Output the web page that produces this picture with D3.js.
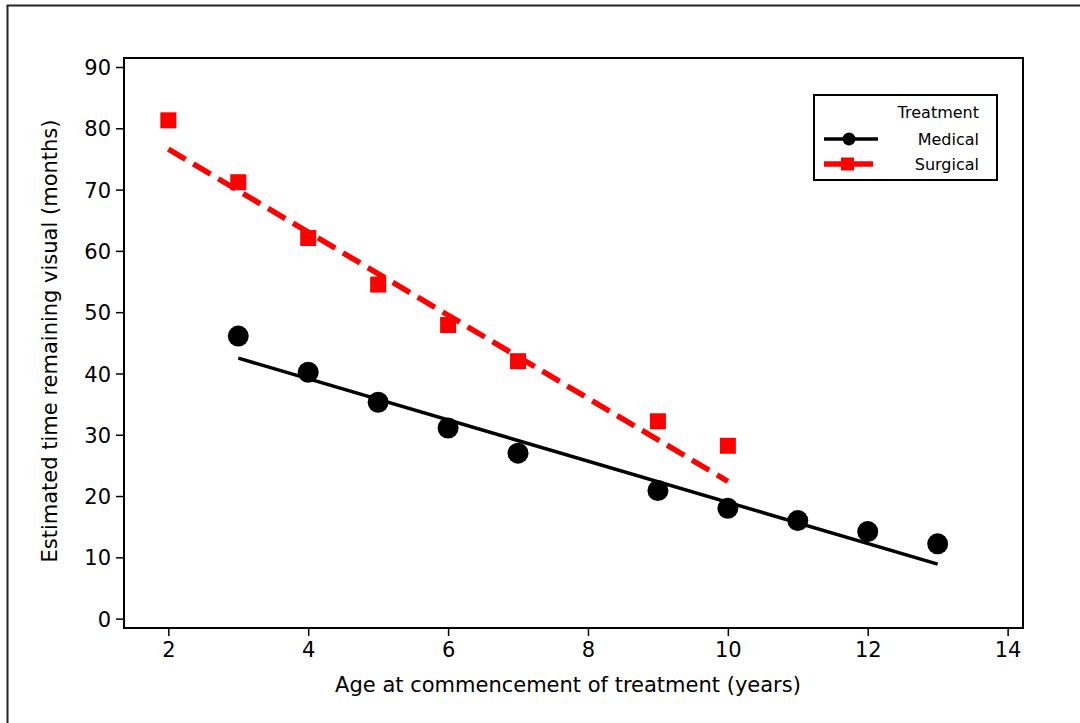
<!DOCTYPE html>
<html>
<head>
<meta charset="utf-8">
<script src="https://cdn.jsdelivr.net/npm/d3@7"></script>
<style>
  body { margin: 0; background: #fff; }
  text { font-family: "DejaVu Sans", sans-serif; fill: #000; }
</style>
</head>
<body>
<div id="chart"></div>
<script>
// data
var medicalAge = [3, 4, 5, 6, 7, 9, 10, 11, 12, 13];
var medicalTime = [46.1, 40.2, 35.3, 31.1, 27.0, 20.9, 18.0, 16.0, 14.2, 12.2];
var surgicalAge = [2, 3, 4, 5, 6, 7, 9, 10];
var surgicalTime = [81.3, 71.2, 62.1, 54.5, 47.9, 42.0, 32.2, 28.2];
// fitted line ends
var medicalFitAge = [3, 13];
var medicalFitTime = [42.5, 8.9];
var surgicalFitAge = [2, 10];
var surgicalFitTime = [76.6, 22.4];
var xTicks = [2, 4, 6, 8, 10, 12, 14];
var yTicks = [0, 10, 20, 30, 40, 50, 60, 70, 80, 90];
var legendLabels = ["Medical", "Surgical"];

var svgWidth = 1080, svgHeight = 723;
var margin = {top: 58, right: 57, bottom: 95, left: 124};
var width = svgWidth - margin.left - margin.right;
var height = svgHeight - margin.top - margin.bottom;

var svg = d3.select("#chart").append("svg")
  .attr("width", svgWidth)
  .attr("height", svgHeight);

// outer border (only left/top visible)
svg.append("rect")
  .attr("x", 7.5).attr("y", 5.5)
  .attr("width", 1200).attr("height", 800)
  .attr("fill", "none").attr("stroke", "#222").attr("stroke-width", 2);

var chartGroup = svg.append("g")
  .attr("transform", `translate(${margin.left}, ${margin.top})`);

var x = d3.scaleLinear().domain([1.366, 14.22]).range([0, width]);
var y = d3.scaleLinear().domain([-1.53, 91.47]).range([height, 0]);

// frame
chartGroup.append("rect")
  .attr("x", 0).attr("y", 0)
  .attr("width", width).attr("height", height)
  .attr("fill", "none").attr("stroke", "#000").attr("stroke-width", 2);

var bottomAxis = d3.axisBottom(x).tickValues(xTicks).tickSize(8).tickPadding(6);
var leftAxis = d3.axisLeft(y).tickValues(yTicks).tickSize(8).tickPadding(5);

var xAxis = chartGroup.append("g")
  .attr("transform", `translate(0, ${height})`)
  .call(bottomAxis);
var yAxis = chartGroup.append("g").call(leftAxis);

[xAxis, yAxis].forEach(function(a) {
  a.attr("font-family", null).attr("font-size", null);
  a.select(".domain").remove();
  a.selectAll("line").attr("stroke", "#000").attr("stroke-width", 1.5);
  a.selectAll("text").style("font-size", "21px");
});
yAxis.selectAll("text").attr("dy", "0.36em");

// fit lines
var line = d3.line().x(d => x(d[0])).y(d => y(d[1]));
chartGroup.append("path")
  .datum(medicalFitAge.map((a, i) => [a, medicalFitTime[i]]))
  .attr("d", line)
  .attr("fill", "none").attr("stroke", "#000").attr("stroke-width", 3.5);
chartGroup.append("path")
  .datum(surgicalFitAge.map((a, i) => [a, surgicalFitTime[i]]))
  .attr("d", line)
  .attr("fill", "none").attr("stroke", "#ff0000").attr("stroke-width", 5.5)
  .attr("stroke-dasharray", "20,9");

// points
chartGroup.selectAll(".med")
  .data(medicalAge)
  .enter()
  .append("circle")
  .attr("cx", d => x(d))
  .attr("cy", (d, i) => y(medicalTime[i]))
  .attr("r", 10.5)
  .attr("fill", "#000");

chartGroup.selectAll(".surg")
  .data(surgicalAge)
  .enter()
  .append("rect")
  .attr("x", d => x(d) - 8)
  .attr("y", (d, i) => y(surgicalTime[i]) - 8)
  .attr("width", 16).attr("height", 16)
  .attr("fill", "#ff0000");

// axis titles
svg.append("text")
  .attr("x", 568)
  .attr("y", 692)
  .attr("text-anchor", "middle")
  .style("font-size", "21px")
  .text("Age at commencement of treatment (years)");

svg.append("text")
  .attr("transform", `translate(57, ${margin.top + height / 2 - 2}) rotate(-90)`)
  .attr("text-anchor", "middle")
  .style("font-size", "21px")
  .text("Estimated time remaining visual (months)");

// legend
var legend = svg.append("g").attr("transform", "translate(814, 95)");
legend.append("rect")
  .attr("x", 0).attr("y", 0).attr("width", 183).attr("height", 85)
  .attr("fill", "#fff").attr("stroke", "#000").attr("stroke-width", 2);
legend.append("text")
  .attr("x", 165).attr("y", 23)
  .attr("text-anchor", "end")
  .style("font-size", "16px")
  .text("Treatment");

legendLabels.forEach(function(lab, i) {
  var yy = 44 + i * 25;
  var med = i === 0;
  legend.append("line")
    .attr("x1", 10).attr("x2", med ? 64 : 59)
    .attr("y1", yy).attr("y2", yy)
    .attr("stroke", med ? "#000" : "#ff0000")
    .attr("stroke-width", med ? 3.5 : 5.5);
  if (med) {
    legend.append("circle").attr("cx", 35).attr("cy", yy).attr("r", 6.5).attr("fill", "#000");
  } else {
    legend.append("rect").attr("x", 27).attr("y", yy - 6.5)
      .attr("width", 13).attr("height", 13).attr("fill", "#ff0000");
  }
  legend.append("text")
    .attr("x", 165).attr("y", yy + 6)
    .attr("text-anchor", "end")
    .style("font-size", "16px")
    .text(lab);
});
</script>
</body>
</html>
